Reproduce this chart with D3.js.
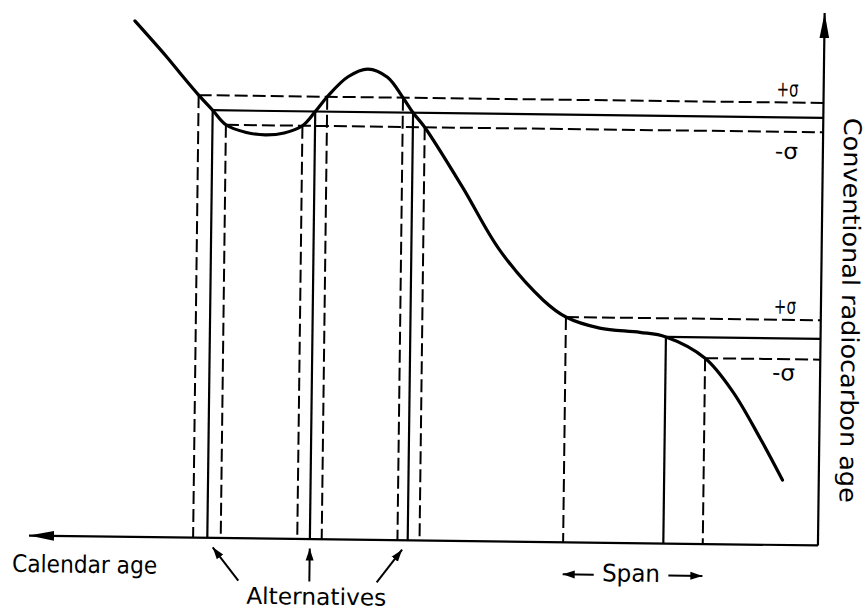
<!DOCTYPE html>
<html><head><meta charset="utf-8">
<script src="https://cdn.jsdelivr.net/npm/d3@7"></script>
<style>body{margin:0;background:#fff}</style>
</head><body>
<svg id="c" width="866" height="612"></svg>
<script>
// Calibration curve: calendar age (arbitrary units, increasing to the left) vs conventional radiocarbon age
const curveCal = [87.4, 83.3, 81.2, 79.2, 77.4, 75.7, 73.1, 70.7, 68.3, 66.0, 64.4, 62.9, 60.3, 57.8, 55.3, 53.3, 52.0, 50.5, 45.6, 40.8, 35.2, 32.3, 28.0, 22.9, 19.6, 14.6, 11.0, 7.5, 4.6];
const curveRC  = [96.9, 90.2, 86.5, 83.1, 80.3, 77.6, 76.2, 75.8, 76.2, 77.6, 80.3, 83.1, 86.9, 88.4, 86.9, 83.1, 80.3, 77.6, 66.4, 54.7, 45.4, 42.3, 40.3, 39.6, 38.8, 34.9, 28.6, 20.0, 12.2];

// measured radiocarbon levels: +σ, mean, -σ
const upperLevels = [83.1, 80.3, 77.6];
const lowerLevels = [42.3, 38.8, 34.9];
// calendar intercepts for each level (same order)
const upperIntercepts = [[79.2, 62.9, 53.3], [77.4, 64.4, 52.0], [75.7, 66.0, 50.5]];
const lowerIntercepts = [[32.3], [19.6], [14.6]];

const sigmaLabels = ["+σ", "-σ"];
const xAxisLabel = "Calendar age";
const yAxisLabel = "Conventional  radiocarbon  age";
const alternativesLabel = "Alternatives";
const spanLabel = "Span";

const svg = d3.select("#c");
const x = d3.scaleLinear().domain([0, 100]).range([821, 32]);
const y = d3.scaleLinear().domain([0, 100]).range([540.5, 8]);

const defs = svg.append("defs");
defs.append("marker").attr("id", "big").attr("markerUnits", "userSpaceOnUse")
  .attr("markerWidth", 27).attr("markerHeight", 12).attr("refX", 25).attr("refY", 6).attr("orient", "auto")
  .append("path").attr("d", "M0,1.2 L25,6 L0,10.8 Z").attr("fill", "#000");
defs.append("marker").attr("id", "small").attr("markerUnits", "userSpaceOnUse")
  .attr("markerWidth", 14).attr("markerHeight", 10).attr("refX", 12).attr("refY", 4.5).attr("orient", "auto")
  .append("path").attr("d", "M0,0.5 L12,4.5 L0,8.5 Z").attr("fill", "#000");

const g = svg.append("g").attr("transform", "rotate(0.72 425 300)")
  .attr("fill", "none").attr("stroke", "#000").attr("stroke-linecap", "butt");

function drawGroup(levels, intercepts) {
  levels.forEach((lv, i) => {
    const dashed = i !== 1;
    const xs = intercepts[i];
    const xStart = d3.max(xs);
    g.append("line")
      .attr("x1", x(xStart)).attr("x2", x(0)).attr("y1", y(lv)).attr("y2", y(lv))
      .attr("stroke-width", dashed ? 2 : 2.2)
      .attr("stroke-dasharray", dashed ? "13,5" : null);
    xs.forEach(c => {
      g.append("line")
        .attr("x1", x(c)).attr("x2", x(c)).attr("y1", y(lv)).attr("y2", y(0))
        .attr("stroke-width", dashed ? 2 : 2.2)
        .attr("stroke-dasharray", dashed ? "13,5" : null);
    });
  });
}
drawGroup(upperLevels, upperIntercepts);
drawGroup(lowerLevels, lowerIntercepts);

// curve
const pts = curveCal.map((c, i) => [x(c), y(curveRC[i])]);
g.append("path").attr("d", d3.line().curve(d3.curveCatmullRom.alpha(0.5))(pts))
  .attr("stroke-width", 3.2).attr("stroke-linejoin", "round").attr("stroke-linecap", "round");

// axes
g.append("line").attr("x1", x(0)).attr("y1", y(0)).attr("x2", x(0)).attr("y2", y(100))
  .attr("stroke-width", 2.2).attr("marker-end", "url(#big)");
g.append("line").attr("x1", x(0)).attr("y1", y(0)).attr("x2", x(100)).attr("y2", y(0))
  .attr("stroke-width", 2.2).attr("marker-end", "url(#big)");

// sigma labels
const tg = g.append("g").attr("stroke", "none").attr("fill", "#000")
  .attr("font-family", "'DejaVu Sans', sans-serif");
[[upperLevels, -6, 27], [lowerLevels, -6, 21]].forEach(([lv, dUp, dDown]) => {
  tg.append("text").attr("x", 796).attr("y", y(lv[0]) + dUp).attr("text-anchor", "end")
    .attr("font-size", 22).attr("textLength", 22).attr("lengthAdjust", "spacingAndGlyphs").text(sigmaLabels[0]);
  tg.append("text").attr("x", 796).attr("y", y(lv[2]) + dDown).attr("text-anchor", "end")
    .attr("font-size", 22).attr("textLength", 23).attr("lengthAdjust", "spacingAndGlyphs").text(sigmaLabels[1]);
});

// axis labels
tg.append("text").attr("x", 15.5).attr("y", 577).attr("font-size", 24)
  .attr("textLength", 145).attr("lengthAdjust", "spacingAndGlyphs").text(xAxisLabel);
tg.append("text").attr("transform", "translate(842,305) rotate(90)").attr("text-anchor", "middle")
  .attr("font-size", 24).attr("textLength", 385).attr("lengthAdjust", "spacingAndGlyphs").text(yAxisLabel);
tg.append("text").attr("x", 250).attr("y", 606).attr("font-size", 23)
  .attr("textLength", 140).attr("lengthAdjust", "spacingAndGlyphs").text(alternativesLabel);
tg.append("text").attr("x", 605.5).attr("y", 579).attr("font-size", 24)
  .attr("textLength", 58).attr("lengthAdjust", "spacingAndGlyphs").text(spanLabel);

// Alternatives arrows pointing at the mean intercepts
const solidX = upperIntercepts[1];
const tipOff = [5.5, 0, -5.5];
const tailOff = [26, 0, -25];
solidX.forEach((c, i) => {
  g.append("line")
    .attr("x1", x(c) + tipOff[i] + tailOff[i]).attr("y1", 583)
    .attr("x2", x(c) + tipOff[i]).attr("y2", 550)
    .attr("stroke-width", 2).attr("marker-end", "url(#small)");
});

// Span arrows
const spanL = lowerIntercepts[0][0], spanR = lowerIntercepts[2][0];
g.append("line").attr("x1", x(spanL) + 31).attr("x2", x(spanL)).attr("y1", 572.5).attr("y2", 572.5)
  .attr("stroke-width", 2).attr("marker-end", "url(#small)");
g.append("line").attr("x1", x(spanR) - 34).attr("x2", x(spanR)).attr("y1", 572.5).attr("y2", 572.5)
  .attr("stroke-width", 2).attr("marker-end", "url(#small)");
</script>
</body></html>
